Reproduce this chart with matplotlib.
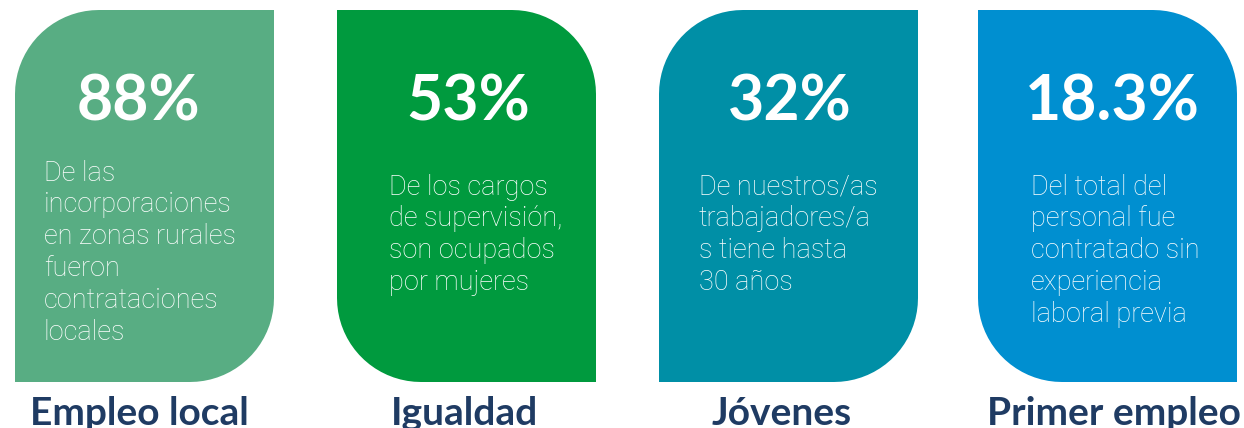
import numpy as np
import matplotlib.pyplot as plt
from matplotlib.path import Path
from matplotlib.patches import PathPatch

values = ["88%", "53%", "32%", "18.3%"]
descriptions = [
    ["De las", "incorporaciones", "en zonas rurales", "fueron", "contrataciones", "locales"],
    ["De los cargos", "de supervisión,", "son ocupados", "por mujeres"],
    ["De nuestros/as", "trabajadores/a", "s tiene hasta", "30 años"],
    ["Del total del", "personal fue", "contratado sin", "experiencia", "laboral previa"],
]
titles = ["Empleo local", "Igualdad", "Jóvenes", "Primer empleo"]
colors = ["#58ad83", "#009a3e", "#008fa6", "#008fd0"]

title_color = "#1f3b63"
W, H = 1244, 428
card_left = [15, 337, 659, 978]
card_w = 259
card_top, card_bottom = 10, 382
radius = 84
value_x = [138, 468, 790, 1112]
title_x = [139, 465, 782, 1114]
text_left = [44, 389, 699, 1031]
first_line = [173, 187, 187, 187]
line_gap = 31.8


def card_path(x0, y0, x1, y1, r, flip):
    # y grows downwards; round two opposite corners
    t = np.linspace(0, np.pi / 2, 20)
    pts = []
    if not flip:
        # rounded top-left and bottom-right
        cx, cy = x0 + r, y0 + r
        pts += list(zip(cx - r * np.cos(t), cy - r * np.sin(t)))
        pts += [(x1, y0)]
        cx, cy = x1 - r, y1 - r
        pts += list(zip(cx + r * np.cos(t), cy + r * np.sin(t)))
        pts += [(x0, y1)]
    else:
        # rounded top-right and bottom-left
        pts += [(x0, y0)]
        cx, cy = x1 - r, y0 + r
        pts += list(zip(cx + r * np.sin(t), cy - r * np.cos(t)))
        pts += [(x1, y1)]
        cx, cy = x0 + r, y1 - r
        pts += list(zip(cx - r * np.sin(t), cy + r * np.cos(t)))
    pts.append(pts[0])
    codes = [Path.MOVETO] + [Path.LINETO] * (len(pts) - 2) + [Path.CLOSEPOLY]
    return Path(pts, codes)


fig = plt.figure(figsize=(W / 100, H / 100), dpi=100)
ax = fig.add_axes([0, 0, 1, 1])
ax.set_xlim(0, W)
ax.set_ylim(H, 0)
ax.axis("off")

for i in range(len(values)):
    x0 = card_left[i]
    x1 = x0 + card_w
    ax.add_patch(PathPatch(card_path(x0, card_top, x1, card_bottom, radius, i % 2 == 1),
                           facecolor=colors[i], edgecolor="none"))
    ax.text(value_x[i], 102, values[i], color="white", fontsize=45, fontweight="bold",
            family="Lato", ha="center", va="center")
    for j, line in enumerate(descriptions[i]):
        ax.text(text_left[i], first_line[i] + j * line_gap, line, color="white",
                fontsize=19.5, fontweight="light", family="Roboto", ha="left", va="center")
    ax.text(title_x[i], 425, titles[i], color=title_color, fontsize=28, fontweight="bold",
            family="Lato", ha="center", va="baseline")

plt.savefig("out.png", dpi=100)
